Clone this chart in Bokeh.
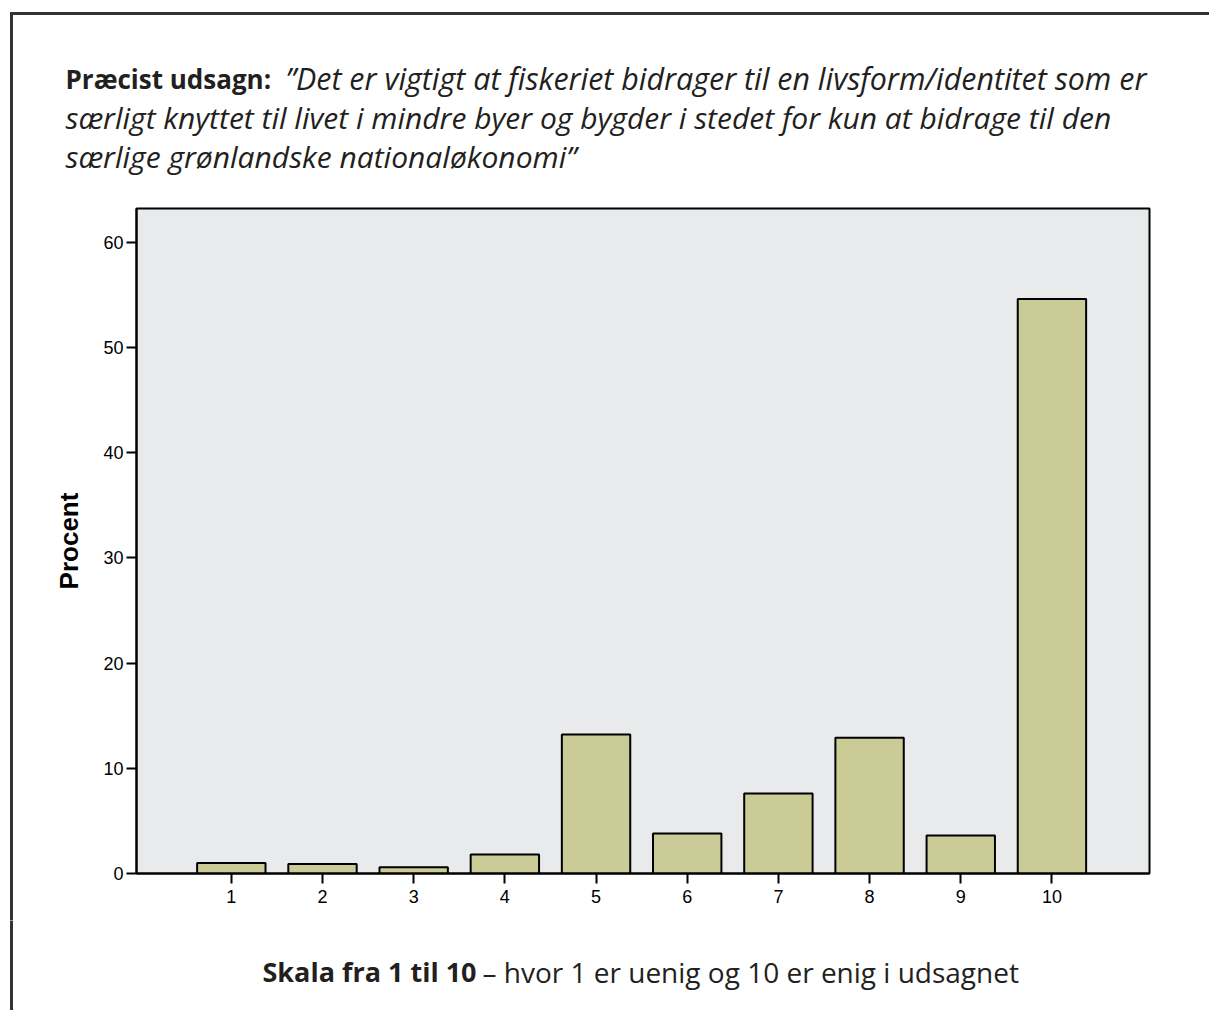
from bokeh.plotting import figure
from bokeh.layouts import column, row
from bokeh.models import Range1d, FixedTicker, Label, Div
from bokeh.embed import file_html
from bokeh.resources import INLINE

# ---- data ----
categories = [1, 2, 3, 4, 5, 6, 7, 8, 9, 10]
percent = [1.0, 0.9, 0.6, 1.8, 13.2, 3.8, 7.6, 12.9, 3.6, 54.6]
y_ticks = [0, 10, 20, 30, 40, 50, 60]

title_bold = "Præcist udsagn:"
title_lines = [
    "\u201dDet er vigtigt at fiskeriet bidrager til en livsform/identitet som er",
    "særligt knyttet til livet i mindre byer og bygder i stedet for kun at bidrage til den",
    "særlige grønlandske nationaløkonomi\u201d",
]
footer_bold = "Skala fra 1 til 10"
footer_rest = "\u2013 hvor 1 er uenig og 10 er enig i udsagnet"
y_label = "Procent"

# ---- page geometry (pixels) ----
PW, PH = 1209, 1010
HEAD_H = 190          # header band 0..190
MID_BOTTOM = 920      # chart band 190..920, footer 920..1010
STRIP_W = 20
BORDER = "#333333"
TXT = "#231f20"
FONT = "Open Sans"


def blank(width, height, y0, y1, x0=0):
    f = figure(width=width, height=height, output_backend="svg", toolbar_location=None,
               x_range=Range1d(x0, x0 + width), y_range=Range1d(y1, y0),
               min_border=0, min_border_left=0, min_border_right=0,
               min_border_top=0, min_border_bottom=0,
               x_axis_location=None, y_axis_location=None)
    f.outline_line_color = None
    f.background_fill_color = "white"
    f.border_fill_color = "white"
    f.xgrid.visible = False
    f.ygrid.visible = False
    return f


# ---- header ----
head = blank(PW, HEAD_H, 0, HEAD_H)
head.quad(left=9.5, right=PW + 5, top=11.5, bottom=14.5, fill_color=BORDER, line_color=None)
head.quad(left=9.5, right=12.5, top=11.5, bottom=HEAD_H + 1, fill_color=BORDER, line_color=None)
head.add_layout(Label(x=65, y=78, text=title_bold, text_font=FONT, text_font_style="bold",
                      text_font_size="26px", text_color=TXT, text_baseline="alphabetic"))
head.add_layout(Label(x=285, y=78, text=title_lines[0], text_font=FONT,
                      text_font_style="italic", text_font_size="30.4px", text_color=TXT,
                      text_baseline="alphabetic"))
for i, line in enumerate(title_lines[1:]):
    head.add_layout(Label(x=65, y=117 + 39 * i, text=line, text_font=FONT,
                          text_font_style="italic", text_font_size="30px", text_color=TXT,
                          text_baseline="alphabetic"))

# ---- left border beside the chart ----
MID_H = MID_BOTTOM - HEAD_H
strip = Div(width=STRIP_W, height=MID_H, margin=0,
            text=('<div style="margin:0 0 0 9.5px;padding:0;width:3px;height:%dpx;'
                  'background:%s;"></div>' % (MID_H, BORDER)))

# ---- chart ----
# frame at page x 136..1149, y 208..873
p = figure(width=PW - STRIP_W, height=MID_H, output_backend="svg", toolbar_location=None,
           x_range=Range1d(-0.04, 11.07), y_range=Range1d(0, 63.2),
           min_border_left=136 - STRIP_W, min_border_right=PW - 1149,
           min_border_top=208 - HEAD_H, min_border_bottom=MID_BOTTOM - 873)
p.background_fill_color = "#e9eaec"
p.border_fill_color = "white"
p.outline_line_color = "black"
p.outline_line_width = 2
p.xgrid.visible = False
p.ygrid.visible = False

p.vbar(x=categories, top=percent, width=0.75, fill_color="#cbcb97",
       line_color="black", line_width=2)

for ax in (p.xaxis[0], p.yaxis[0]):
    ax.axis_line_color = "black"
    ax.axis_line_width = 2
    ax.major_tick_line_color = "black"
    ax.major_tick_line_width = 2
    ax.major_tick_in = 0
    ax.major_tick_out = 10
    ax.minor_tick_line_color = None
    ax.major_label_text_font = "Liberation Sans"
    ax.major_label_text_font_size = "18px"
    ax.major_label_text_color = "black"

p.xaxis[0].ticker = FixedTicker(ticks=categories)
p.xaxis[0].major_label_standoff = 6
p.yaxis[0].ticker = FixedTicker(ticks=y_ticks)
p.yaxis[0].major_label_standoff = 3
p.yaxis[0].axis_label = y_label
p.yaxis[0].axis_label_text_font = "Liberation Sans"
p.yaxis[0].axis_label_text_font_style = "bold"
p.yaxis[0].axis_label_text_font_size = "26px"
p.yaxis[0].axis_label_text_color = "black"
p.yaxis[0].axis_label_standoff = 16

# ---- footer ----
FOOT_H = PH - MID_BOTTOM
foot = blank(PW, FOOT_H, MID_BOTTOM, PH)
foot.quad(left=9.5, right=12.5, top=MID_BOTTOM - 1, bottom=PH + 5,
          fill_color=BORDER, line_color=None)
foot.add_layout(Label(x=262, y=971, text=footer_bold, text_font=FONT, text_font_style="bold",
                      text_font_size="27px", text_color=TXT, text_baseline="alphabetic"))
foot.add_layout(Label(x=482, y=971, text=footer_rest, text_font=FONT,
                      text_font_style="normal", text_font_size="28px", text_color=TXT,
                      text_baseline="alphabetic"))

layout = column(head, row(strip, p, spacing=0), foot, spacing=0)
open("out.html", "w").write(file_html(layout, INLINE))
